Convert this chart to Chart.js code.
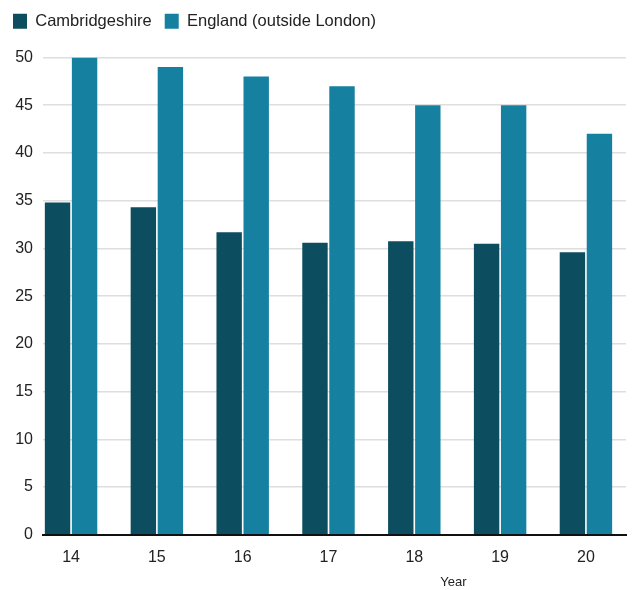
<!DOCTYPE html>
<html>
<head>
<meta charset="utf-8">
<script src="https://cdn.jsdelivr.net/npm/chart.js@4.4.1/dist/chart.umd.min.js"></script>
<style>
  html, body { margin: 0; padding: 0; background: #fff; }
  #wrap { width: 633px; height: 590px; }
</style>
</head>
<body>
<div id="wrap"><canvas id="chart"></canvas></div>
<script>
// years shown as two-digit labels
const years = [14, 15, 16, 17, 18, 19, 20];
const cambridgeshire = [34.8, 34.3, 31.7, 30.6, 30.75, 30.5, 29.6];
const englandOutsideLondon = [50, 49, 48, 47, 45, 45, 42];
const yTicks = [0, 5, 10, 15, 20, 25, 30, 35, 40, 45, 50];

const FONT = "'Liberation Sans', Arial, sans-serif";
const TEXT = '#222222';

// axis title sits right of centre in the original, draw it by hand
const yearTitle = {
    id: 'yearTitle',
    afterDraw(chart) {
        const { ctx, chartArea } = chart;
        ctx.save();
        ctx.font = '13px ' + FONT;
        ctx.fillStyle = TEXT;
        ctx.textAlign = 'center';
        ctx.textBaseline = 'middle';
        ctx.fillText('Year', chartArea.left + (chartArea.right - chartArea.left) * 0.704, 582);
        ctx.restore();
    }
};

// extra room under the legend
const legendGap = {
    id: 'legendGap',
    beforeInit(chart) {
        const fit = chart.legend.fit;
        chart.legend.fit = function () {
            fit.call(this);
            this.height += 18;
        };
    }
};

new Chart(document.getElementById('chart'), {
    type: 'bar',
    data: {
        datasets: [{
            label: 'Cambridgeshire',
            data: years.map((y, i) => ({ x: y, y: cambridgeshire[i] })),
            backgroundColor: '#0c4d5f',
            categoryPercentage: 0.63,
            barPercentage: 0.94
        }, {
            label: 'England (outside London)',
            data: years.map((y, i) => ({ x: y, y: englandOutsideLondon[i] })),
            backgroundColor: '#1580a0',
            categoryPercentage: 0.63,
            barPercentage: 0.94
        }]
    },
    options: {
        responsive: true,
        maintainAspectRatio: false,
        animation: false,
        layout: { padding: { left: 0, right: 7, top: 0, bottom: 10 } },
        plugins: {
            legend: {
                align: 'start',
                labels: {
                    boxWidth: 14,
                    boxHeight: 15,
                    padding: 13,
                    color: TEXT,
                    font: { family: FONT, size: 16.5 }
                }
            },
            tooltip: { enabled: false }
        },
        scales: {
            x: {
                type: 'linear',
                offset: false,
                min: 13.673,
                max: 20.467,
                grid: { display: false, drawTicks: false },
                border: { color: '#111', width: 2 },
                ticks: {
                    stepSize: 1,
                    includeBounds: false,
                    padding: 13,
                    color: TEXT,
                    font: { family: FONT, size: 16 },
                    callback: v => String(v)
                }
            },
            y: {
                min: 0,
                max: 50,
                afterBuildTicks: axis => { axis.ticks = yTicks.map(v => ({ value: v })); },
                afterFit: axis => { axis.width = 43; },
                grid: { color: '#dedede', lineWidth: 1.5, drawTicks: false },
                border: { display: false },
                ticks: {
                    padding: 10,
                    color: TEXT,
                    font: { family: FONT, size: 16 }
                }
            }
        }
    },
    plugins: [yearTitle, legendGap]
});
</script>
</body>
</html>
